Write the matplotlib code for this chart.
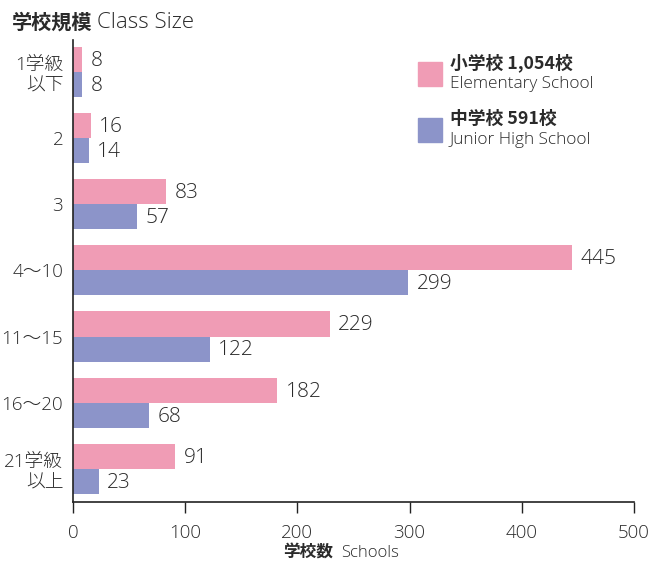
import numpy as np
import matplotlib
matplotlib.use("Agg")
import matplotlib.pyplot as plt
from matplotlib.patches import Rectangle

plt.rcParams['font.family'] = ['Open Sans', 'Noto Sans CJK JP', 'DejaVu Sans']
cjk = ['Noto Sans CJK JP', 'DejaVu Sans']

categories = ["1学級\n以下", "2", "3", "4～10", "11～15", "16～20", "21学級\n以上"]
elementary = [8, 16, 83, 445, 229, 182, 91]
junior = [8, 14, 57, 299, 122, 68, 23]
legend_titles = ["小学校 1,054校", "中学校 591校"]
legend_subs = ["Elementary School", "Junior High School"]

pink = "#f09cb5"
blue = "#8c94c9"
txt = "#2a2a2a"
lw = "light"

fig = plt.figure(figsize=(6.53, 5.64), dpi=100)
ax = fig.add_axes([73 / 653, 1 - 502 / 564, (634 - 73) / 653, (502 - 40) / 564])

y = np.arange(len(categories))
h = 0.38
ax.barh(y - h / 2, elementary, height=h, color=pink)
ax.barh(y + h / 2, junior, height=h, color=blue)

for i in range(len(categories)):
    ax.annotate(str(elementary[i]), (elementary[i], y[i] - h / 2), xytext=(6, -1),
                textcoords="offset points", va="center", ha="left", fontsize=15,
                color=txt, fontweight=lw)
    ax.annotate(str(junior[i]), (junior[i], y[i] + h / 2), xytext=(6, -1),
                textcoords="offset points", va="center", ha="left", fontsize=15,
                color=txt, fontweight=lw)

ax.set_xlim(0, 500)
ax.set_ylim(6.5, -0.48)
ax.set_yticks(y)
ax.set_yticklabels(categories, fontsize=13.5, color=txt, ha="right", linespacing=1.2,
                   fontweight=lw)
ax.tick_params(axis="y", length=0, pad=7)
ax.set_xticks([0, 100, 200, 300, 400, 500])
ax.set_xticklabels(["0", "100", "200", "300", "400", "500"], fontsize=13.5, color=txt,
                   fontweight=lw)
ax.tick_params(axis="x", direction="out", length=8, width=1, pad=8, color="#222222")
for s in ["top", "right"]:
    ax.spines[s].set_visible(False)
for s in ["left", "bottom"]:
    ax.spines[s].set_color("#222222")
    ax.spines[s].set_linewidth(1.2)

# title
fig.text(12 / 653, 1 - 22 / 564, "学校規模", fontsize=14.5, fontweight="bold", color=txt,
         va="center", family=cjk)
fig.text(97 / 653, 1 - 22 / 564, "Class Size", fontsize=16, color=txt, va="center",
         fontweight=lw)

# x label
fig.text(283 / 653, 1 - 553 / 564, "学校数", fontsize=12, fontweight="bold", color=txt,
         va="center", family=cjk)
fig.text(341 / 653, 1 - 553 / 564, "Schools", fontsize=12, color=txt, va="center",
         fontweight=lw)

# legend
for k, col in enumerate([pink, blue]):
    top = 62 + k * 56
    fig.patches.append(Rectangle((418 / 653, 1 - (top + 24) / 564), 24 / 653, 24 / 564,
                                 transform=fig.transFigure, color=col))
    fig.text(450 / 653, 1 - (top + 1) / 564, legend_titles[k], fontsize=12.8,
             fontweight="bold", color=txt, va="center", family=cjk)
    fig.text(450 / 653, 1 - (top + 22) / 564, legend_subs[k], fontsize=12.4,
             color=txt, va="center", fontweight=lw)

fig.savefig("out.png", dpi=100)
